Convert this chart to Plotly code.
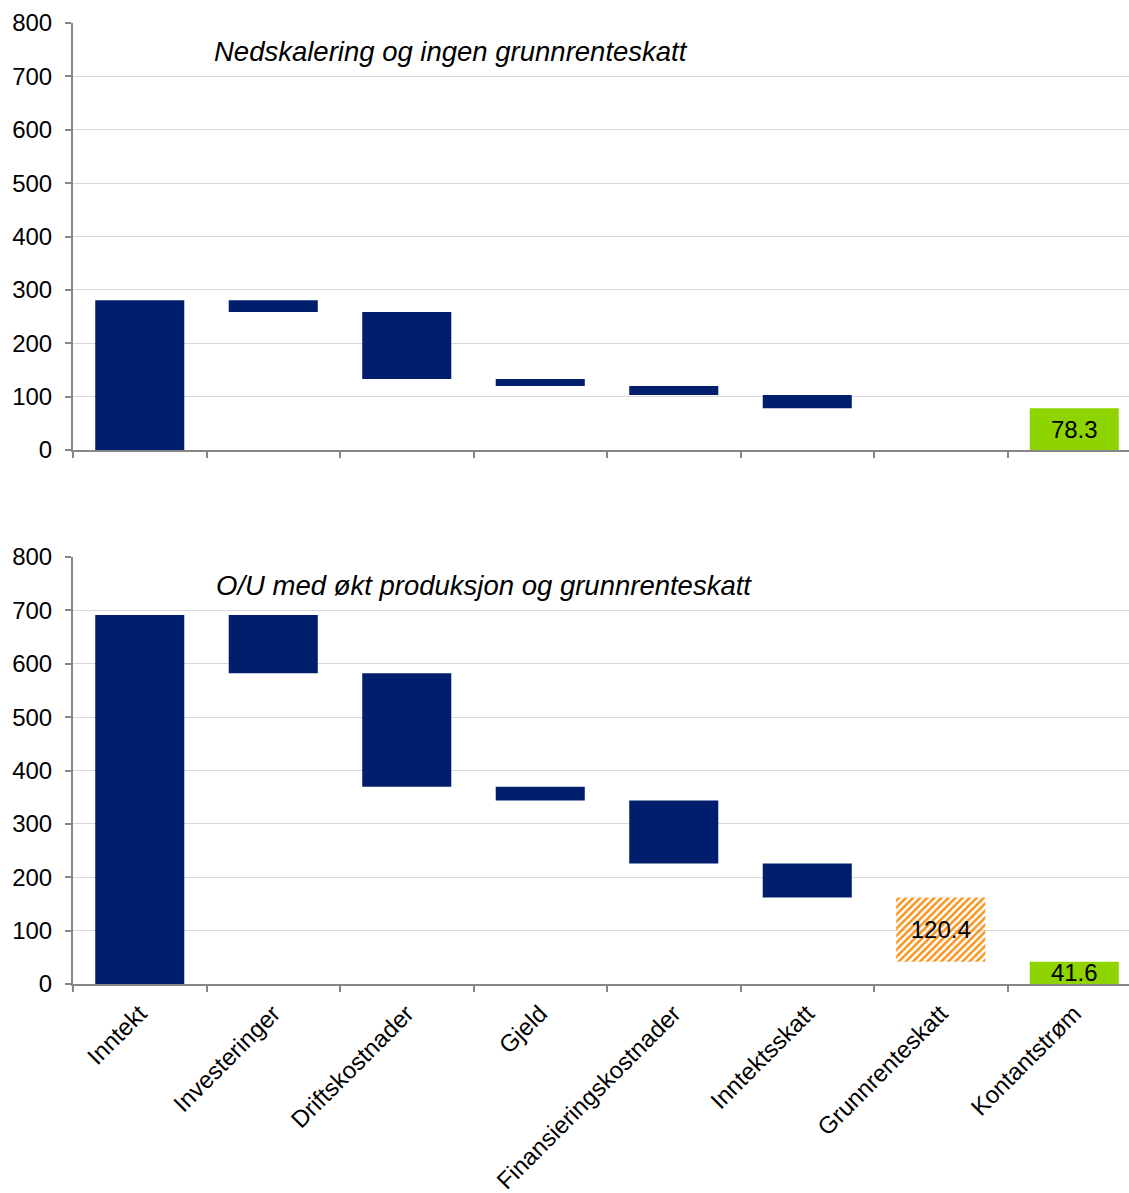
import plotly.graph_objects as go

# Cash-flow bridge categories (shared by both panels)
categories = ["Inntekt", "Investeringer", "Driftskostnader", "Gjeld",
              "Finansieringskostnader", "Inntektsskatt", "Grunnrenteskatt",
              "Kontantstrøm"]

# Panel 1: Nedskalering og ingen grunnrenteskatt
inntekt_ned = 280.5
# Investeringer, Driftskostnader, Gjeld, Finansieringskostnader, Inntektsskatt, Grunnrenteskatt
kostnader_ned = [21.8, 125.7, 13.0, 16.9, 24.8, 0.0]
kontantstrom_ned = 78.3

# Panel 2: O/U med økt produksjon og grunnrenteskatt
inntekt_ou = 691.5
kostnader_ou = [109.5, 212.5, 25.7, 118.2, 63.6, 120.4]
kontantstrom_ou = 41.6

titles = ["Nedskalering og ingen grunnrenteskatt",
          "O/U med økt produksjon og grunnrenteskatt"]

y_ticks = [0, 100, 200, 300, 400, 500, 600, 700, 800]

NAVY = "#001E6C"
ORANGE = "#F7941D"
GREEN = "#8FD400"
AXIS_GREY = "#868686"
GRID_GREY = "#D9D9D9"
FONT = "Liberation Sans, Arial, sans-serif"


def bridge(inntekt, kostnader, kontant):
    """Floating-bar bases and heights for a revenue-to-cash-flow bridge."""
    bases, heights = [0.0], [inntekt]
    level = inntekt
    for c in kostnader:
        level -= c
        bases.append(level)
        heights.append(c)
    bases.append(0.0)
    heights.append(kontant)
    return bases, heights


fig = go.Figure()

panels = [
    (inntekt_ned, kostnader_ned, kontantstrom_ned, "x", "y"),
    (inntekt_ou, kostnader_ou, kontantstrom_ou, "x2", "y2"),
]

for inntekt, kostnader, kontant, xa, ya in panels:
    bases, heights = bridge(inntekt, kostnader, kontant)
    colors = [NAVY] * 6 + [ORANGE, GREEN]
    shapes = [""] * 6 + ["/", ""]
    labels = [""] * 6 + [
        f"{kostnader[-1]:.1f}" if kostnader[-1] > 0 else "",
        f"{kontant:.1f}",
    ]
    fig.add_trace(go.Bar(
        x=categories, y=heights, base=bases,
        xaxis=xa, yaxis=ya,
        width=0.667,
        marker=dict(
            color=colors,
            line=dict(width=0),
            pattern=dict(shape=shapes, fgcolor=ORANGE, bgcolor="#FFF6EC",
                         size=5, solidity=0.5, fillmode="replace"),
        ),
        text=labels,
        textposition="inside",
        insidetextanchor="middle",
        constraintext="none",
        textangle=0,
        textfont=dict(family=FONT, size=24, color="black"),
        showlegend=False,
        hoverinfo="skip",
    ))

x_common = dict(
    type="category",
    categoryorder="array",
    categoryarray=categories,
    range=[-0.5, 7.41],
    showline=True, linecolor=AXIS_GREY, linewidth=2,
    ticks="outside", ticklen=6, tickcolor=AXIS_GREY, tickwidth=1.5,
    tickson="boundaries",
    showgrid=False, zeroline=False,
    tickfont=dict(family=FONT, size=24, color="black"),
)
y_common = dict(
    range=[0, 800],
    tickvals=y_ticks,
    showline=True, linecolor=AXIS_GREY, linewidth=2,
    ticks="outside", ticklen=6, tickcolor=AXIS_GREY, tickwidth=1.5,
    ticklabelstandoff=8,
    showgrid=True, gridcolor=GRID_GREY, gridwidth=1,
    zeroline=False,
    tickfont=dict(family=FONT, size=24, color="black"),
)

top_dom = [(984 - 450) / 961, 1.0]
bot_dom = [0.0, (984 - 557) / 961]

fig.update_layout(
    width=1129, height=1193,
    margin=dict(l=73, r=0, t=23, b=209),
    plot_bgcolor="white", paper_bgcolor="white",
    font=dict(family=FONT, color="black"),
    barmode="overlay",
    xaxis=dict(x_common, anchor="y", showticklabels=False),
    yaxis=dict(y_common, domain=top_dom, anchor="x"),
    xaxis2=dict(x_common, anchor="y2", tickangle=-45, ticklabelstandoff=4),
    yaxis2=dict(y_common, domain=bot_dom, anchor="x2"),
    annotations=[
        dict(text=f"<i>{titles[0]}</i>", xref="paper", yref="paper",
             x=(212 - 73) / 1056, y=(984 - 52) / 961,
             xanchor="left", yanchor="middle", showarrow=False,
             font=dict(family=FONT, size=27.5, color="black")),
        dict(text=f"<i>{titles[1]}</i>", xref="paper", yref="paper",
             x=(214 - 73) / 1056, y=(984 - 585) / 961,
             xanchor="left", yanchor="middle", showarrow=False,
             font=dict(family=FONT, size=27.5, color="black")),
    ],
)

fig.write_html("out.html")
